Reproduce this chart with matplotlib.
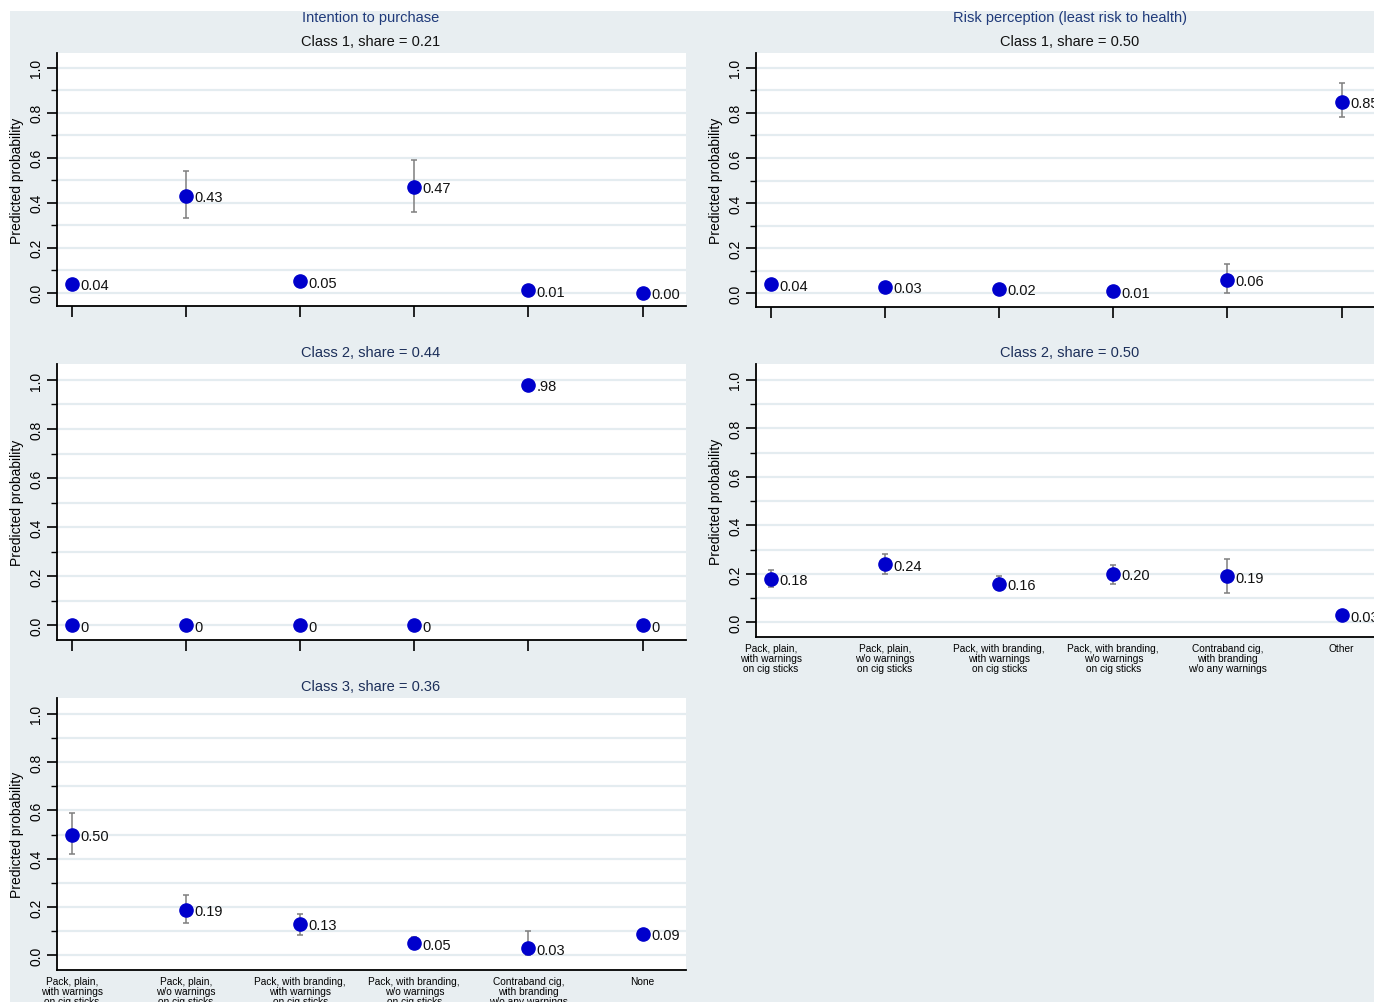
import numpy as np
import matplotlib.pyplot as plt
from matplotlib.patches import Rectangle

plt.rcParams['font.family'] = ['Liberation Sans', 'DejaVu Sans']

# 横轴类别（六个选项）
x_labels_intent = ['Pack, plain,\nwith warnings\non cig sticks',
                   'Pack, plain,\nw/o warnings\non cig sticks',
                   'Pack, with branding,\nwith warnings\non cig sticks',
                   'Pack, with branding,\nw/o warnings\non cig sticks',
                   'Contraband cig,\nwith branding\nw/o any warnings',
                   'None']
x_labels_risk = x_labels_intent[:5] + ['Other']

# Intention to purchase
intent_c1 = [0.04, 0.43, 0.05, 0.47, 0.01, 0.00]
intent_c1_lo = [0.04, 0.33, 0.05, 0.36, 0.01, 0.00]
intent_c1_hi = [0.04, 0.54, 0.05, 0.59, 0.01, 0.00]
intent_c1_txt = ['0.04', '0.43', '0.05', '0.47', '0.01', '0.00']

intent_c2 = [0.0, 0.0, 0.0, 0.0, 0.98, 0.0]
intent_c2_lo = intent_c2
intent_c2_hi = intent_c2
intent_c2_txt = ['0', '0', '0', '0', '.98', '0']

intent_c3 = [0.50, 0.19, 0.13, 0.05, 0.03, 0.09]
intent_c3_lo = [0.42, 0.135, 0.085, 0.03, 0.0, 0.08]
intent_c3_hi = [0.59, 0.25, 0.17, 0.075, 0.10, 0.105]
intent_c3_txt = ['0.50', '0.19', '0.13', '0.05', '0.03', '0.09']

# Risk perception
risk_c1 = [0.04, 0.03, 0.02, 0.01, 0.06, 0.85]
risk_c1_lo = [0.04, 0.03, 0.02, 0.01, 0.0, 0.78]
risk_c1_hi = [0.04, 0.03, 0.02, 0.01, 0.13, 0.93]
risk_c1_txt = ['0.04', '0.03', '0.02', '0.01', '0.06', '0.85']

risk_c2 = [0.18, 0.24, 0.16, 0.20, 0.19, 0.03]
risk_c2_lo = [0.145, 0.20, 0.135, 0.16, 0.12, 0.03]
risk_c2_hi = [0.215, 0.28, 0.19, 0.235, 0.26, 0.03]
risk_c2_txt = ['0.18', '0.24', '0.16', '0.20', '0.19', '0.03']

W, H = 1374, 1003
fig = plt.figure(figsize=(W / 100, H / 100), dpi=100)
fig.patch.set_facecolor('white')

# 浅灰蓝背景
fig.add_artist(Rectangle((10 / W, 0), 1, 1 - 12 / H, transform=fig.transFigure,
                         facecolor='#e8eef1', edgecolor='none', zorder=-5))


def px_axes(x0, x1, y0, y1):
    return fig.add_axes([x0 / W, 1 - y1 / H, (x1 - x0) / W, (y1 - y0) / H])


def panel(ax, vals, lo, hi, txt, xlabels):
    xs = np.arange(1, 7)
    ax.set_facecolor('white')
    ax.set_xlim(0.87, 6.38)
    ax.set_ylim(-0.06, 1.065)
    ax.set_yticks(np.arange(0, 1.01, 0.2))
    ax.set_yticks(np.arange(0.1, 1.0, 0.2), minor=True)
    ax.set_yticklabels(['%.1f' % v for v in np.arange(0, 1.01, 0.2)])
    for v in np.arange(0, 1.01, 0.1):
        ax.axhline(v, color='#e4ecf0', lw=1.6, zorder=0)
    ax.set_xticks(xs)
    if xlabels is None:
        ax.set_xticklabels([])
        ax.tick_params(axis='x', length=8, width=1.2, pad=2)
    else:
        ax.set_xticklabels(xlabels, fontsize=7.3, linespacing=1.0)
        ax.tick_params(axis='x', length=0, pad=4)
    for s in ['top', 'right']:
        ax.spines[s].set_visible(False)
    for s in ['left', 'bottom']:
        ax.spines[s].set_linewidth(1.3)
    ax.tick_params(axis='y', which='major', length=7, width=1.2, labelsize=10,
                   labelrotation=90, pad=3)
    ax.tick_params(axis='y', which='minor', length=4, width=1.0)
    for lab in ax.get_yticklabels():
        lab.set_verticalalignment('center')
    ax.set_ylabel('Predicted probability', fontsize=10, labelpad=4)

    vals = np.array(vals)
    err = [vals - np.array(lo), np.array(hi) - vals]
    ax.errorbar(xs, vals, yerr=err, fmt='none', ecolor='#7f7f7f', elinewidth=1.1,
                capsize=2.5, capthick=1.1, zorder=2)
    ax.plot(xs, vals, 'o', color='#0000cc', ms=9.5, zorder=3, clip_on=False)
    for x, y, t in zip(xs, vals, txt):
        ax.annotate(t, xy=(x, y), xytext=(6, -1), textcoords='offset points',
                    ha='left', va='center', fontsize=10.5, color='#111111')
    return ax


ax1 = px_axes(57, 686, 54, 307)
panel(ax1, intent_c1, intent_c1_lo, intent_c1_hi, intent_c1_txt, None)
ax2 = px_axes(57, 686, 365, 641)
panel(ax2, intent_c2, intent_c2_lo, intent_c2_hi, intent_c2_txt, None)
ax3 = px_axes(57, 686, 699, 971)
panel(ax3, intent_c3, intent_c3_lo, intent_c3_hi, intent_c3_txt, x_labels_intent)
ax4 = px_axes(756, 1385, 54, 308)
panel(ax4, risk_c1, risk_c1_lo, risk_c1_hi, risk_c1_txt, None)
ax5 = px_axes(756, 1385, 365, 638)
panel(ax5, risk_c2, risk_c2_lo, risk_c2_hi, risk_c2_txt, x_labels_risk)

# 标题
fig.text(371 / W, 1 - 18 / H, 'Intention to purchase', ha='center', va='center',
         fontsize=10.5, color='#1f3a7a')
fig.text(1070 / W, 1 - 18 / H, 'Risk perception (least risk to health)', ha='center',
         va='center', fontsize=10.5, color='#1f3a7a')
subtitles = [(371, 42, 'Class 1, share = 0.21', '#111111'),
             (371, 353, 'Class 2, share = 0.44', '#1c2f5a'),
             (371, 687, 'Class 3, share = 0.36', '#1c2f5a'),
             (1070, 42, 'Class 1, share = 0.50', '#111111'),
             (1070, 353, 'Class 2, share = 0.50', '#1c2f5a')]
for x, y, t, c in subtitles:
    fig.text(x / W, 1 - y / H, t, ha='center', va='center', fontsize=10.5, color=c)

fig.savefig('out.png', dpi=100)
